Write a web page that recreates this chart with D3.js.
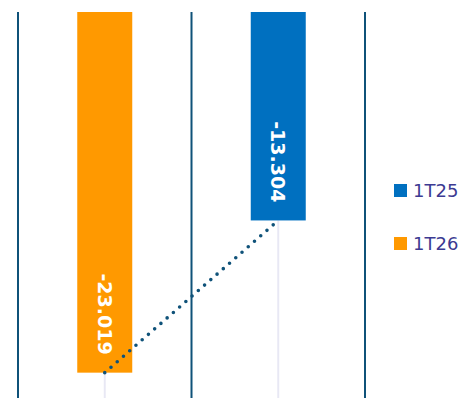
<!DOCTYPE html>
<html><head><meta charset="utf-8">
<script src="https://cdn.jsdelivr.net/npm/d3@7"></script>
<style>html,body{margin:0;padding:0;background:#fff;}svg{display:block;}</style>
</head><body>
<svg id="c" width="464" height="398"></svg>
<script>
const categories = ["1T26", "1T25"];
const values = [-23.019, -13.304];
const colors = ["#FF9900", "#0070C0"];
const labels = ["-23.019", "-13.304"];
const legendNames = ["1T25", "1T26"];
const legendColors = ["#0070C0", "#FF9900"];

const svg = d3.select("#c");
const x = d3.scaleBand().domain(categories).range([18, 365]).paddingInner(0).paddingOuter(0);
const y = d3.scaleLinear().domain([0, -25]).range([12, 403.7]);
const barW = 55;
const cx = d => x(d) + x.bandwidth() / 2;

// gray guide lines under bars
svg.selectAll("line.g").data(categories).enter().append("line")
  .attr("x1", (d) => cx(d)).attr("x2", (d) => cx(d))
  .attr("y1", (d, i) => y(values[i])).attr("y2", y(-25))
  .attr("stroke", "#e8e8f4").attr("stroke-width", 2);

// band boundary lines
const bounds = [x(categories[0]), x(categories[1]), x(categories[1]) + x.bandwidth()];
svg.selectAll("line.b").data(bounds).enter().append("line")
  .attr("x1", d => d).attr("x2", d => d)
  .attr("y1", y(0)).attr("y2", y(-25))
  .attr("stroke", "#0f5279").attr("stroke-width", 2);

// bars
svg.selectAll("rect.bar").data(categories).enter().append("rect")
  .attr("x", d => cx(d) - barW / 2).attr("width", barW)
  .attr("y", y(0)).attr("height", (d, i) => y(values[i]) - y(0))
  .attr("fill", (d, i) => colors[i]);

// labels
svg.selectAll("text.lbl").data(categories).enter().append("text")
  .attr("transform", (d, i) => `translate(${cx(d)},${y(values[i]) - 18}) rotate(90)`)
  .attr("text-anchor", "end").attr("dy", "0.36em")
  .attr("fill", "#fff").attr("font-family", "DejaVu Sans").attr("font-weight", "bold")
  .attr("font-size", 19).text((d, i) => labels[i]);

// dotted connector
const line = d3.line().x(d => cx(d[0])).y(d => y(d[1]));
svg.append("path").datum(categories.map((c, i) => [c, values[i]]))
  .attr("d", line).attr("fill", "none").attr("stroke", "#0f5279")
  .attr("stroke-width", 3.6).attr("stroke-linecap", "round").attr("stroke-dasharray", "0 8.3");

// legend
const lg = svg.append("g");
legendNames.forEach((n, i) => {
  lg.append("rect").attr("x", 394).attr("y", 184 + i * 53).attr("width", 13).attr("height", 13).attr("fill", legendColors[i]);
  lg.append("text").attr("x", 413).attr("y", 197 + i * 53).attr("font-family", "DejaVu Sans")
    .attr("font-size", 18).attr("fill", "#3c3a92").text(n);
});
</script>
</body></html>
